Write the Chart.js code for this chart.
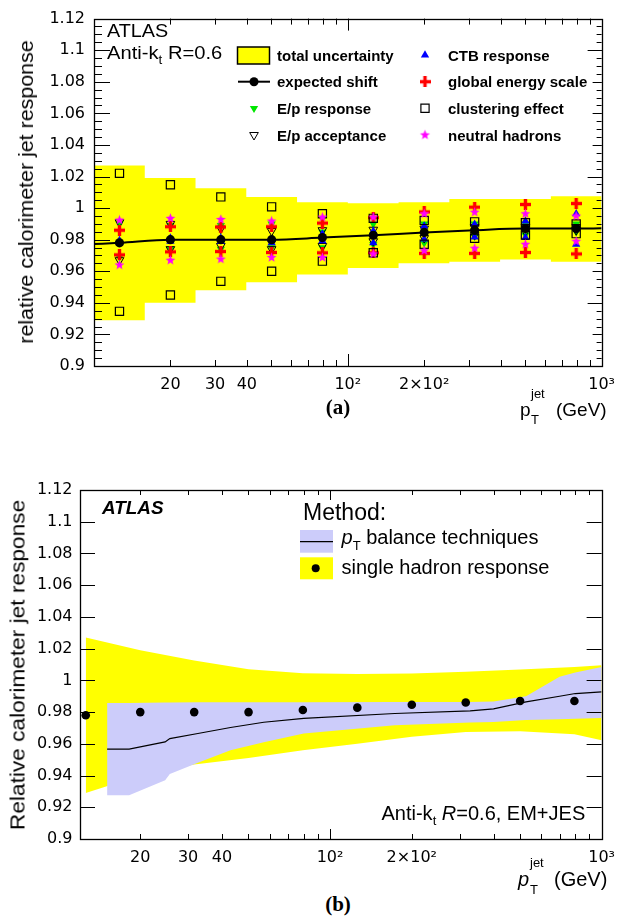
<!DOCTYPE html>
<html><head><meta charset="utf-8">
<script src="https://cdn.jsdelivr.net/npm/chart.js@4.4.1/dist/chart.umd.min.js"></script>
<style>
html,body{margin:0;padding:0;background:#fff;}
body{width:624px;height:919px;position:relative;overflow:hidden;font-family:"Liberation Sans",Arial,sans-serif;color:#000;}
canvas{position:absolute;left:0;}
.t{position:absolute;white-space:nowrap;line-height:1;transform-origin:0 0;}
.b{font-weight:bold;}
.rot{position:absolute;white-space:nowrap;line-height:1;}
.lab{position:absolute;font-family:"Liberation Serif","Times New Roman",serif;font-weight:bold;font-size:21px;line-height:1;transform:translateX(-50%);}
</style>
</head><body>
<canvas id="chartA" width="624" height="420" style="top:0px"></canvas>
<canvas id="chartB" width="624" height="420" style="top:470px"></canvas>

<!-- panel (a) texts -->
<div class="t" style="left:106.5px;top:22px;font-size:18px;transform:scaleX(1.1)">ATLAS</div>
<div class="t" style="left:106.5px;top:44px;font-size:18px;transform:scaleX(1.12)">Anti-k<span style="font-size:12px;position:relative;top:5px">t</span> R=0.6</div>
<div class="t b" style="left:277px;top:47.5px;font-size:15px">total uncertainty</div>
<div class="t b" style="left:277px;top:74px;font-size:15px">expected shift</div>
<div class="t b" style="left:277px;top:100.5px;font-size:15px">E/p response</div>
<div class="t b" style="left:277px;top:127.5px;font-size:15px">E/p acceptance</div>
<div class="t b" style="left:448px;top:47.5px;font-size:15px">CTB response</div>
<div class="t b" style="left:448px;top:74px;font-size:15px">global energy scale</div>
<div class="t b" style="left:448px;top:100.5px;font-size:15px">clustering effect</div>
<div class="t b" style="left:448px;top:127.5px;font-size:15px">neutral hadrons</div>
<div class="rot" style="left:26px;top:192px;font-size:20px;transform:translate(-50%,-50%) rotate(-90deg) scaleX(1.07)">relative calorimeter jet response</div>
<div class="t" style="left:520px;top:400px;font-size:19px">p</div>
<div class="t" style="left:531px;top:387px;font-size:13px">jet</div>
<div class="t" style="left:531px;top:413px;font-size:13px">T</div>
<div class="t" style="left:556px;top:400px;font-size:19px">(GeV)</div>
<div class="lab" style="left:338px;top:397px">(a)</div>

<!-- panel (b) texts -->
<div class="t b" style="left:101.5px;top:499px;font-size:18px;font-style:italic;transform:scaleX(1.05)">ATLAS</div>
<div class="t" style="left:303px;top:500.5px;font-size:23px">Method:</div>
<div class="t" style="left:341.5px;top:527px;font-size:20px"><i>p</i><span style="font-size:13px;position:relative;top:6px">T</span> balance techniques</div>
<div class="t" style="left:341.5px;top:556.5px;font-size:20px">single hadron response</div>
<div class="t" style="left:381.5px;top:803px;font-size:20px">Anti-k<span style="font-size:13px;position:relative;top:5px">t</span> <i>R</i>=0.6, EM+JES</div>
<div class="rot" style="left:17px;top:665px;font-size:21px;transform:translate(-50%,-50%) rotate(-90deg) scaleX(1.08)">Relative calorimeter jet response</div>
<div class="t" style="left:518px;top:869px;font-size:20px"><i>p</i></div>
<div class="t" style="left:530px;top:856px;font-size:13px">jet</div>
<div class="t" style="left:530px;top:883px;font-size:13px">T</div>
<div class="t" style="left:554px;top:869px;font-size:20px">(GeV)</div>
<div class="lab" style="left:338px;top:894px">(b)</div>

<script>
// ---------------- DATA: panel (a) ----------------
const binEdges    = [10, 15.85, 25.12, 39.81, 63.1, 100, 158.5, 251.2, 398.1, 631, 1000];
const binCenters  = [12.6, 20, 31.6, 50.1, 79.4, 126, 200, 316, 501, 794];
const totalUncUp   = [1.027, 1.019, 1.0125, 1.007, 1.0037, 1.0031, 1.0037, 1.0058, 1.0058, 1.0075];
const totalUncDown = [0.929, 0.940, 0.948, 0.953, 0.958, 0.962, 0.965, 0.966, 0.9675, 0.966];
const expectedShift = [0.978, 0.980, 0.980, 0.980, 0.9813, 0.9828, 0.9846, 0.986, 0.987, 0.987];
const shiftCurveEnds = [0.9772, 0.9872];           // curve value at pT = 10 and pT = 1000
const epRespUp   = [0.990, 0.989, 0.989, 0.990, 0.985, 0.990, 0.990, 0.990, 0.990, 0.990];
const epRespDown = [0.969, 0.974, 0.974, 0.975, 0.975, 0.977, 0.978, 0.982, 0.983, 0.985];
const epAccUp    = [0.991, 0.990, 0.987, 0.9855, 0.986, 0.9863, 0.987, 0.988, 0.988, 0.988];
const epAccDown  = [0.967, 0.974, 0.976, 0.974, 0.976, 0.979, 0.981, 0.983, 0.985, 0.986];
const ctbUp      = [0.9795, 0.981, 0.981, 0.980, 0.9836, 0.9855, 0.9886, 0.9897, 0.9918, 0.9964];
const ctbDown    = [0.978, 0.979, 0.979, 0.978, 0.9792, 0.978, 0.9803, 0.9817, 0.9813, 0.9771];
const gesUp      = [0.986, 0.9882, 0.988, 0.9882, 0.9905, 0.994, 0.9976, 1.0006, 1.0023, 1.0029];
const gesDown    = [0.9704, 0.9723, 0.9725, 0.9719, 0.9717, 0.9717, 0.9713, 0.9713, 0.9719, 0.971];
const clusUp     = [1.022, 1.0148, 1.0071, 1.0008, 0.9964, 0.9935, 0.9922, 0.9913, 0.9907, 0.990];
const clusDown   = [0.9346, 0.945, 0.9536, 0.960, 0.9664, 0.9717, 0.9771, 0.9809, 0.983, 0.9838];
const neutUp     = [0.9924, 0.9935, 0.9928, 0.9918, 0.9943, 0.9943, 0.9964, 0.9974, 0.9964, 0.995];
const neutDown   = [0.964, 0.967, 0.9677, 0.9687, 0.9687, 0.971, 0.973, 0.9746, 0.9771, 0.979];

// ---------------- DATA: panel (b) ----------------
const hadronBandPt   = [12.6, 20, 31.6, 50.1, 79.4, 126, 200, 316, 501, 794, 1000];
const hadronBandUp   = [1.027, 1.019, 1.0125, 1.007, 1.0045, 1.004, 1.0043, 1.0054, 1.0069, 1.0085, 1.0096];
const hadronBandDown = [0.929, 0.940, 0.947, 0.951, 0.956, 0.960, 0.9644, 0.9675, 0.968, 0.966, 0.9623];
const balancePt   = [15.1, 18.2, 24.7, 25.7, 32.6, 43, 57, 80, 173, 328, 400, 527, 700, 800, 1000];
const balanceMid  = [0.9566, 0.9566, 0.9612, 0.9633, 0.9665, 0.9703, 0.9736, 0.976, 0.9791, 0.9808, 0.982, 0.9864, 0.990, 0.9917, 0.9927];
const balanceUp   = [0.9858, 0.9858, 0.9860, 0.9860, 0.9862, 0.9862, 0.9862, 0.9862, 0.9864, 0.9864, 0.9866, 0.990, 1.0022, 1.005, 1.0085];
const balanceDown = [0.9276, 0.9276, 0.937, 0.941, 0.948, 0.956, 0.961, 0.9665, 0.9717, 0.9735, 0.9738, 0.975, 0.9755, 0.9758, 0.9763];

// ---------------- axis ticks ----------------
const yTickVals = [0.9, 0.92, 0.94, 0.96, 0.98, 1.0, 1.02, 1.04, 1.06, 1.08, 1.1, 1.12];
const xTickVals = [20, 30, 40, 100, 200, 1000];
const xTickText = ['20', '30', '40', '10²', '2×10²', '10³'];
const xMinorVals = [20, 30, 40, 50, 60, 70, 80, 90, 200, 300, 400, 500, 600, 700, 800, 900];
const xMajorVals = [100];
const aRightLong = [0.94, 1.02, 1.1];

// ---------------- helpers ----------------
const pts = (xs, ys) => ys.map((v, i) => ({x: xs[i], y: v}));
function stepPts(edges, vals){ const p = vals.map((v,i)=>({x: edges[i], y: v})); p.push({x: edges[edges.length-1], y: vals[vals.length-1]}); return p; }
function starImg(color, r){
  const s = Math.ceil(2*r+2), c = document.createElement('canvas'); c.width = c.height = s;
  const g = c.getContext('2d'); g.fillStyle = color; g.beginPath();
  for (let i = 0; i < 10; i++){ const a = -Math.PI/2 + i*Math.PI/5, rr = (i%2) ? r*0.42 : r; g.lineTo(s/2 + rr*Math.cos(a), s/2 + rr*Math.sin(a)); }
  g.closePath(); g.fill(); return c;
}
function plusImg(color, size, thick){
  const c = document.createElement('canvas'); c.width = c.height = size;
  const g = c.getContext('2d'); g.fillStyle = color;
  g.fillRect((size-thick)/2, 0, thick, size); g.fillRect(0, (size-thick)/2, size, thick); return c;
}
const STAR = starImg('#ff00ff', 5.2);
const PLUS = plusImg('#ff0000', 11, 3.4);
const GREEN = '#00e600', BLUE = '#0000ff';

function yLabel(v){ return String(+v.toFixed(2)); }
function rangeVals(a, b, step){ const out = []; for (let v = a; v <= b + 1e-9; v += step) out.push(+v.toFixed(4)); return out; }

// ROOT-like inward ticks + frame, drawn through the chart scales
const rootAxes = {
  id: 'rootAxes',
  afterDatasetsDraw(chart, args, o){
    const c = chart.ctx, A = chart.chartArea, xs = chart.scales.x, ys = chart.scales.y;
    c.save(); c.strokeStyle = '#000'; c.lineWidth = 1;
    const hline = (x0, x1, y) => { y = Math.round(y) + 0.5; c.beginPath(); c.moveTo(x0, y); c.lineTo(x1, y); c.stroke(); };
    const vline = (x, y0, y1) => { x = Math.round(x) + 0.5; c.beginPath(); c.moveTo(x, y0); c.lineTo(x, y1); c.stroke(); };
    o.yLeft.forEach(([vals, len]) => vals.forEach(v => hline(A.left, A.left + len, ys.getPixelForValue(v))));
    o.yRight.forEach(([vals, len]) => vals.forEach(v => hline(A.right - len, A.right, ys.getPixelForValue(v))));
    xMinorVals.forEach(v => { const p = xs.getPixelForValue(v); vline(p, A.bottom - o.xMinLen, A.bottom); vline(p, A.top, A.top + o.xMinLen); });
    xMajorVals.forEach(v => { const p = xs.getPixelForValue(v); vline(p, A.bottom - o.xMajLen, A.bottom); vline(p, A.top, A.top + o.xMajLen); });
    c.lineWidth = 1.3; c.strokeRect(Math.round(A.left)+0.5, Math.round(A.top)+0.5, Math.round(A.right-A.left), Math.round(A.bottom-A.top));
    c.restore();
  }
};

function commonScales(xmin, yWidth, xHeight, yPad, xPad){
  return {
    x: { type: 'logarithmic', min: xmin, max: 1000,
      afterBuildTicks: s => { s.ticks = xTickVals.map(v => ({value: v})); },
      afterFit: s => { s.height = xHeight; },
      grid: {display: false, drawTicks: false, tickLength: 0}, border: {display: false},
      ticks: { autoSkip: false, maxRotation: 0, padding: xPad, color: '#000',
        font: {family: 'DejaVu Sans', size: 16},
        callback: v => xTickText[xTickVals.indexOf(v)] } },
    y: { type: 'linear', min: 0.9, max: 1.12,
      afterBuildTicks: s => { s.ticks = yTickVals.map(v => ({value: v})); },
      afterFit: s => { s.width = yWidth; },
      grid: {display: false, drawTicks: false, tickLength: 0}, border: {display: false},
      ticks: { padding: yPad, color: '#000', font: {family: 'DejaVu Sans', size: 16}, callback: v => yLabel(v) } }
  };
}

// ---------------- chart (a) ----------------
const legendA = {
  id: 'legendA',
  afterDraw(chart){
    const c = chart.ctx, dp = Chart.helpers.drawPoint;
    c.save();
    c.fillStyle = '#ffff00'; c.fillRect(237.5, 47, 32, 17);
    c.strokeStyle = '#000'; c.lineWidth = 1.5; c.strokeRect(237.5, 47, 32, 17);
    c.lineWidth = 2; c.beginPath(); c.moveTo(238, 81.7); c.lineTo(270, 81.7); c.stroke();
    c.fillStyle = '#000'; dp(c, {pointStyle: 'circle', radius: 4.5, borderWidth: 0}, 254, 81.7);
    c.fillStyle = GREEN; dp(c, {pointStyle: 'triangle', rotation: 180, radius: 4.8, borderWidth: 0}, 254, 108.3);
    c.strokeStyle = '#000'; c.lineWidth = 1; c.fillStyle = 'rgba(0,0,0,0)';
    dp(c, {pointStyle: 'triangle', rotation: 180, radius: 5, borderWidth: 1}, 254, 135);
    c.fillStyle = BLUE; dp(c, {pointStyle: 'triangle', rotation: 0, radius: 4.8, borderWidth: 0}, 425, 55);
    dp(c, {pointStyle: PLUS, radius: 5.5}, 425, 81.7);
    c.fillStyle = 'rgba(0,0,0,0)'; c.strokeStyle = '#000'; c.lineWidth = 1.2;
    dp(c, {pointStyle: 'rect', radius: 5.8, borderWidth: 1.2}, 425, 108.3);
    dp(c, {pointStyle: STAR, radius: 5.2}, 425, 135);
    c.restore();
  }
};

const markerSet = (up, down, style) => [
  Object.assign({type: 'scatter', data: pts(binCenters, up)}, style),
  Object.assign({type: 'scatter', data: pts(binCenters, down)}, style)
];
const sGreen = {pointStyle: 'triangle', rotation: 180, pointRadius: 4.8, pointBackgroundColor: GREEN, pointBorderWidth: 0, order: 8};
const sOpen  = {pointStyle: 'triangle', rotation: 180, pointRadius: 5, pointBackgroundColor: 'rgba(0,0,0,0)', pointBorderColor: '#000', pointBorderWidth: 1, order: 7};
const sBlue  = {pointStyle: 'triangle', rotation: 0, pointRadius: 4.8, pointBackgroundColor: BLUE, pointBorderWidth: 0, order: 6};
const sRed   = {pointStyle: PLUS, pointRadius: 5.5, order: 5};
const sSq    = {pointStyle: 'rect', pointRadius: 5.8, pointBackgroundColor: 'rgba(0,0,0,0)', pointBorderColor: '#000', pointBorderWidth: 1.2, order: 4};
const sStar  = {pointStyle: STAR, pointRadius: 5.2, order: 3};

new Chart(document.getElementById('chartA'), {
  type: 'scatter',
  data: { datasets: [
    {type: 'line', data: stepPts(binEdges, totalUncUp), stepped: true, fill: '+1', backgroundColor: '#ffff00', borderWidth: 0, pointRadius: 0, order: 20},
    {type: 'line', data: stepPts(binEdges, totalUncDown), stepped: true, fill: false, borderWidth: 0, pointRadius: 0, order: 21},
    {type: 'line', data: pts([10].concat(binCenters, [1000]), [shiftCurveEnds[0]].concat(expectedShift, [shiftCurveEnds[1]])),
      cubicInterpolationMode: 'monotone', borderColor: '#000', borderWidth: 2, pointRadius: 0, fill: false, order: 9},
    ...markerSet(epRespUp, epRespDown, sGreen),
    ...markerSet(epAccUp, epAccDown, sOpen),
    ...markerSet(ctbUp, ctbDown, sBlue),
    ...markerSet(gesUp, gesDown, sRed),
    ...markerSet(clusUp, clusDown, sSq),
    ...markerSet(neutUp, neutDown, sStar),
    {type: 'scatter', data: pts(binCenters, expectedShift), pointStyle: 'circle', pointRadius: 4.6, pointBackgroundColor: '#000', pointBorderWidth: 0, order: 1}
  ]},
  options: {
    responsive: false, animation: false, events: [],
    layout: {padding: {left: 0, top: 16, right: 14, bottom: 0}},
    plugins: {legend: {display: false}, tooltip: {enabled: false},
      rootAxes: {yLeft: [[rangeVals(0.9, 1.12, 0.005), 8], [yTickVals, 16]],
                 yRight: [[rangeVals(0.9, 1.12, 0.005), 5], [yTickVals, 9], [aRightLong, 14]],
                 xMinLen: 6, xMajLen: 12}},
    scales: commonScales(10, 94, 54, 9, 9)
  },
  plugins: [rootAxes, legendA]
});

// ---------------- chart (b) ----------------
const legendB = {
  id: 'legendB',
  afterDraw(chart){
    const c = chart.ctx, dp = Chart.helpers.drawPoint;
    c.save();
    c.fillStyle = '#ccccfa'; c.fillRect(300, 60, 33, 22.7);
    c.strokeStyle = '#000'; c.lineWidth = 1.3; c.beginPath(); c.moveTo(300, 71.7); c.lineTo(333, 71.7); c.stroke();
    c.fillStyle = '#ffff00'; c.fillRect(300, 87.3, 33, 22);
    c.fillStyle = '#000'; dp(c, {pointStyle: 'circle', radius: 4, borderWidth: 0}, 315.7, 98.3);
    c.restore();
  }
};

new Chart(document.getElementById('chartB'), {
  type: 'scatter',
  data: { datasets: [
    {type: 'line', data: pts(hadronBandPt, hadronBandUp), fill: '+1', backgroundColor: '#ffff00', borderWidth: 0, pointRadius: 0, order: 20},
    {type: 'line', data: pts(hadronBandPt, hadronBandDown), fill: false, borderWidth: 0, pointRadius: 0, order: 21},
    {type: 'line', data: pts(balancePt, balanceUp), fill: '+1', backgroundColor: '#ccccfa', borderWidth: 0, pointRadius: 0, order: 10},
    {type: 'line', data: pts(balancePt, balanceDown), fill: false, borderWidth: 0, pointRadius: 0, order: 11},
    {type: 'line', data: pts(balancePt, balanceMid), fill: false, borderColor: '#000', borderWidth: 1.2, pointRadius: 0, order: 5},
    {type: 'scatter', data: pts(binCenters, expectedShift), pointStyle: 'circle', pointRadius: 4.3, pointBackgroundColor: '#000', pointBorderWidth: 0, order: 1}
  ]},
  options: {
    responsive: false, animation: false, events: [],
    layout: {padding: {left: 0, top: 20, right: 14, bottom: 0}},
    plugins: {legend: {display: false}, tooltip: {enabled: false},
      rootAxes: {yLeft: [[yTickVals, 15]], yRight: [[yTickVals, 15]], xMinLen: 5, xMajLen: 10}},
    scales: commonScales(12, 80, 51, 7.5, 9)
  },
  plugins: [rootAxes, legendB]
});
</script>
</body></html>
